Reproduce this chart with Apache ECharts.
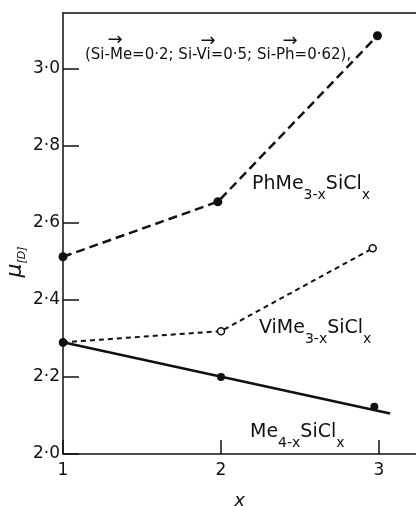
<!DOCTYPE html>
<html><head><meta charset="utf-8">
<script src="https://cdn.jsdelivr.net/npm/echarts@6/dist/echarts.min.js"></script>
<style>html,body{margin:0;padding:0;background:#fff}#c{width:416px;height:506px}</style>
</head><body><div id="c"></div>
<script>
// ---- data ----
const xTicks = [1, 2, 3];
const xTickLabels = ['1', '2', '3'];
const yTicks = [2.0, 2.2, 2.4, 2.6, 2.8, 3.0];
const yTickLabels = ['2·0', '2·2', '2·4', '2·6', '2·8', '3·0'];

const phX = [1, 1.98, 2.99];
const phY = [2.512, 2.655, 3.086];
const viX = [1, 2.0, 2.96];
const viY = [2.29, 2.319, 2.534];
const meX = [1, 2.0, 2.97];
const meY = [2.289, 2.20, 2.123];
const meFitX = [1, 3.07];
const meFitY = [2.29, 2.105];

const pairs = (xs, ys) => xs.map((x, i) => [x, ys[i]]);
const FONT = 'DejaVu Sans';
const INK = '#111';

function tickFmt(ticks, labels) {
  return v => {
    for (let i = 0; i < ticks.length; i++) if (Math.abs(v - ticks[i]) < 1e-6) return labels[i];
    return '';
  };
}

const chart = echarts.init(document.getElementById('c'), null, {renderer: 'canvas'});

const subRich = {
  a: {fontFamily: FONT, fontSize: 19, verticalAlign: 'top', fill: INK, color: INK},
  s: {fontFamily: FONT, fontSize: 14, verticalAlign: 'top', padding: [13, 0, 0, 0], fill: INK, color: INK}
};

function formulaText(x, y, parts) {
  return {
    type: 'text', x: x, y: y, z: 100,
    style: {
      text: parts, fill: INK,
      fontFamily: FONT, fontSize: 19,
      verticalAlign: 'top', align: 'left',
      rich: subRich
    }
  };
}

const arrowStyle = {text: '→', fill: INK, fontFamily: FONT, fontSize: 18, align: 'center', verticalAlign: 'middle'};

const option = {
  animation: false,
  backgroundColor: '#fff',
  grid: {left: 63, top: 13, right: 0, bottom: 52, containLabel: false, outerBoundsMode: 'none'},
  xAxis: [{
    type: 'value', min: 1, max: 3.234, interval: 1,
    axisLine: {show: true, lineStyle: {color: INK, width: 1.5}},
    axisTick: {show: true, inside: true, length: 14, customValues: xTicks, lineStyle: {color: INK, width: 1.5}},
    axisLabel: {show: true, customValues: xTicks, formatter: tickFmt(xTicks, xTickLabels), color: INK, fontFamily: FONT, fontSize: 17, margin: 8},
    splitLine: {show: false},
    name: 'x', nameLocation: 'middle', nameGap: 38,
    nameTextStyle: {color: INK, fontFamily: FONT, fontSize: 18, fontStyle: 'italic'}
  }, {
    type: 'value', min: 1, max: 3.234, position: 'top',
    axisLine: {show: true, onZero: false, lineStyle: {color: INK, width: 1.5}},
    axisTick: {show: false}, axisLabel: {show: false}, splitLine: {show: false}
  }],
  yAxis: {
    type: 'value', min: 2.0, max: 3.145, interval: 0.2,
    axisLine: {show: true, lineStyle: {color: INK, width: 1.5}},
    axisTick: {show: true, inside: true, length: 16, customValues: yTicks, lineStyle: {color: INK, width: 1.5}},
    axisLabel: {show: true, customValues: yTicks, formatter: tickFmt(yTicks, yTickLabels), color: INK, fontFamily: FONT, fontSize: 17, margin: 3},
    splitLine: {show: false}
  },
  graphic: [
    {type: 'text', x: 85, y: 55, z: 100, style: {text: '(Si-Me=0·2; Si-Vi=0·5; Si-Ph=0·62),', fill: INK, fontFamily: FONT, fontSize: 15, align: 'left', verticalAlign: 'middle'}},
    {type: 'text', x: 115, y: 40, z: 100, style: arrowStyle},
    {type: 'text', x: 208, y: 41, z: 100, style: arrowStyle},
    {type: 'text', x: 290, y: 41, z: 100, style: arrowStyle},
    formulaText(252, 175, '{a|PhMe}{s|3-x}{a|SiCl}{s|x}'),
    formulaText(259, 319, '{a|ViMe}{s|3-x}{a|SiCl}{s|x}'),
    formulaText(250, 423, '{a|Me}{s|4-x}{a|SiCl}{s|x}'),
    {
      type: 'text', x: 16, y: 262, rotation: Math.PI / 2, z: 100,
      style: {
        text: '{m|μ}{d|[D]}', fill: INK, align: 'center', verticalAlign: 'middle',
        rich: {
          m: {fontFamily: FONT, fontSize: 22, fontStyle: 'italic', verticalAlign: 'top', fill: INK, color: INK},
          d: {fontFamily: FONT, fontSize: 11, fontStyle: 'italic', verticalAlign: 'top', padding: [12, 0, 0, 0], fill: INK, color: INK}
        }
      }
    }
  ],
  series: [
    {
      name: 'PhMe', type: 'line', data: pairs(phX, phY), z: 3,
      lineStyle: {color: INK, width: 2.5, type: [9, 5]},
      symbol: 'circle', symbolSize: 9, itemStyle: {color: INK}
    },
    {
      name: 'ViMe', type: 'line', data: pairs(viX, viY), z: 3,
      lineStyle: {color: INK, width: 2, type: [5, 4]},
      symbol: 'circle', symbolSize: 7, itemStyle: {color: '#fff', borderColor: INK, borderWidth: 1.5}
    },
    {
      name: 'MeFit', type: 'line', data: pairs(meFitX, meFitY), z: 4,
      lineStyle: {color: INK, width: 2.5}, symbol: 'none'
    },
    {
      name: 'Me', type: 'scatter', data: pairs(meX, meY), z: 5,
      symbol: 'circle', symbolSize: 8, itemStyle: {color: INK, opacity: 1}
    }
  ]
};
chart.setOption(option);
</script>
</body></html>
